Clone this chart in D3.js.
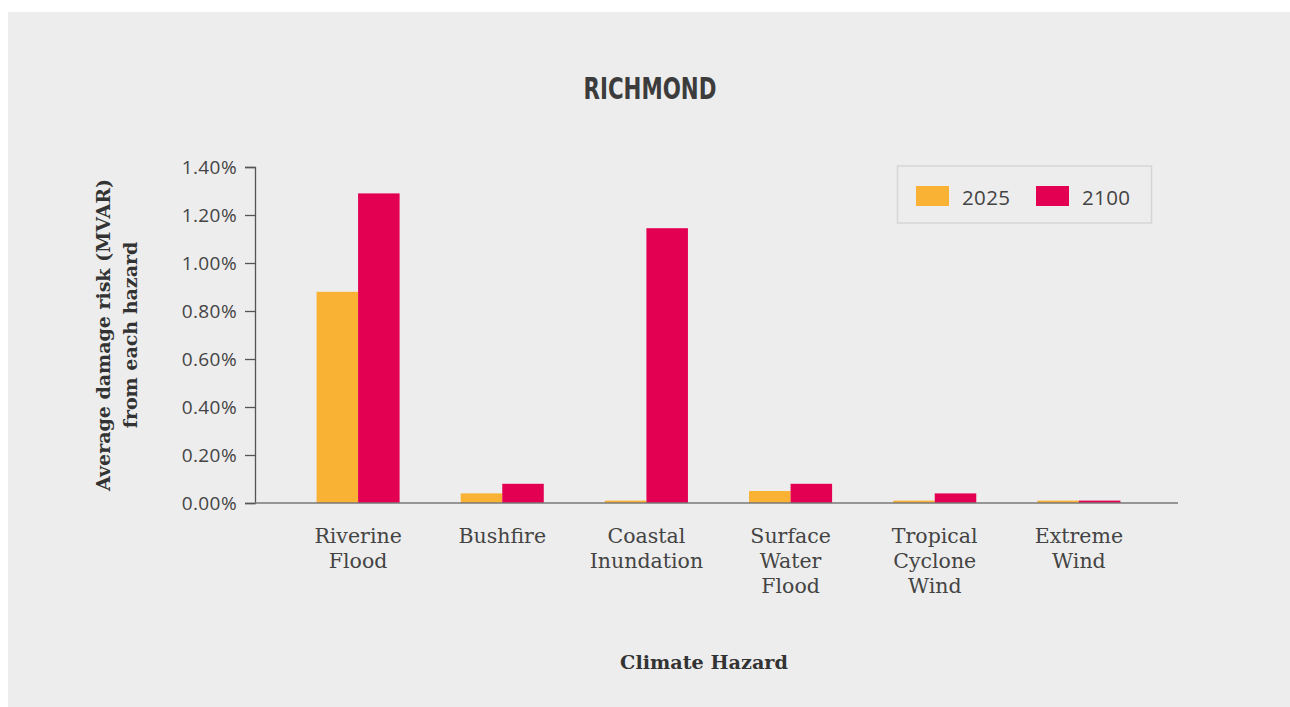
<!DOCTYPE html>
<html><head><meta charset="utf-8">
<script src="https://cdn.jsdelivr.net/npm/d3@7"></script>
<style>body{margin:0;background:#fff;}svg{display:block;}</style>
</head><body>
<script>
const categories = [["Riverine","Flood"],["Bushfire"],["Coastal","Inundation"],["Surface","Water","Flood"],["Tropical","Cyclone","Wind"],["Extreme","Wind"]];
const seriesNames = ["2025","2100"];
const values2025 = [0.88, 0.04, 0.01, 0.05, 0.01, 0.01];
const values2100 = [1.29, 0.08, 1.145, 0.08, 0.04, 0.01];
const yTicks = [0,0.2,0.4,0.6,0.8,1.0,1.2,1.4];
const colors = ["#f9b233","#e30052"];

const W=1290,H=707;
const svg=d3.select("body").append("svg").attr("width",W).attr("height",H);
svg.append("rect").attr("x",8).attr("y",12).attr("width",W-8).attr("height",H-12).attr("fill","#ededed");

const serif="'DejaVu Serif', serif";
const sans="'Open Sans','Noto Sans',sans-serif";

svg.append("text").attr("x",650).attr("y",99).attr("text-anchor","middle")
  .attr("font-family","'Liberation Sans Narrow','DejaVu Sans Condensed',sans-serif").attr("font-weight","bold")
  .attr("font-size",31).attr("fill","#3c3c3c").attr("textLength",133).attr("lengthAdjust","spacingAndGlyphs").text("RICHMOND");

const y=d3.scaleLinear().domain([0,1.4]).range([503,167]);
const x=d3.scaleBand().domain(d3.range(categories.length)).range([286,1151]).paddingInner(0.424).paddingOuter(0.212);
const xs=d3.scaleBand().domain(seriesNames).range([0,x.bandwidth()]);

const yAxis=svg.append("g").attr("transform","translate(255,0)")
  .call(d3.axisLeft(y).tickValues(yTicks).tickSize(10).tickPadding(8).tickFormat(d=>d.toFixed(2)+"%"));
yAxis.select(".domain").attr("stroke","#555").attr("stroke-width",1.3);
yAxis.selectAll(".tick line").attr("stroke","#555").attr("stroke-width",1.3);
yAxis.selectAll("text").attr("font-family",sans).attr("font-size",19).attr("letter-spacing","0.4px").attr("fill","#444").attr("dy","0.35em");

const data=[values2025,values2100];
categories.forEach((c,i)=>{
  seriesNames.forEach((s,j)=>{
    svg.append("rect").attr("x",x(i)+xs(s)).attr("width",xs.bandwidth())
      .attr("y",y(data[j][i])).attr("height",y(0)-y(data[j][i]))
      .attr("fill",colors[j]);
  });
});

svg.append("line").attr("x1",255).attr("x2",1178).attr("y1",y(0)).attr("y2",y(0)).attr("stroke","#777").attr("stroke-width",1.5);

categories.forEach((c,i)=>{
  const t=svg.append("text").attr("text-anchor","middle").attr("font-family",serif).attr("font-size",20.5).attr("fill","#444");
  c.forEach((ln,k)=>t.append("tspan").attr("x",x(i)+x.bandwidth()/2).attr("y",543+k*25).text(ln));
});

svg.append("text").attr("x",704).attr("y",669).attr("text-anchor","middle").attr("font-family",serif).attr("font-weight","bold")
  .attr("font-size",19.2).attr("fill","#333").text("Climate Hazard");

const yl=svg.append("text").attr("transform","translate(110,335) rotate(-90)").attr("text-anchor","middle")
  .attr("font-family",serif).attr("font-weight","bold").attr("font-size",19).attr("fill","#333");
yl.append("tspan").attr("x",0).attr("y",0).text("Average damage risk (MVAR)");
yl.append("tspan").attr("x",0).attr("y",27).text("from each hazard");

const lg=svg.append("g");
lg.append("rect").attr("x",897.5).attr("y",166).attr("width",254).attr("height",57).attr("fill","none").attr("stroke","#d6d6d6").attr("stroke-width",1.5);
const lx=[916,1036];
seriesNames.forEach((s,j)=>{
  lg.append("rect").attr("x",lx[j]).attr("y",186).attr("width",33).attr("height",20).attr("fill",colors[j]);
  lg.append("text").attr("x",lx[j]+46).attr("y",205).attr("font-family",sans).attr("font-size",20.5).attr("letter-spacing","0.4px").attr("fill","#444").text(s);
});
</script>
</body></html>
